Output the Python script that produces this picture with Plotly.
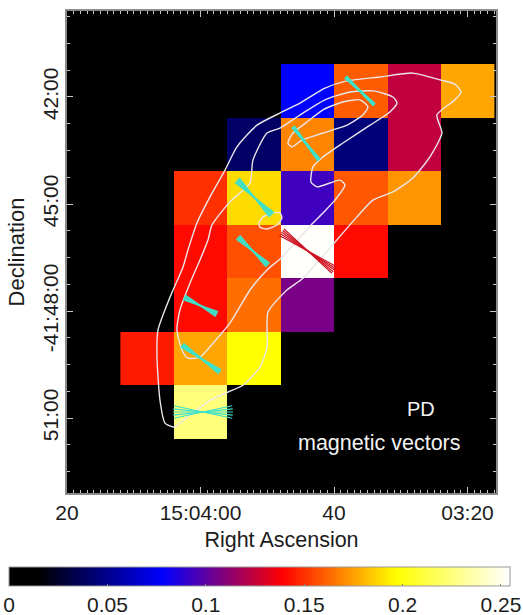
import math
import plotly.graph_objects as go

# Grid of polarised-degree cells: RA is seconds after 15:03:00, Dec is arcmin south of -41:00
ra_centers = [68, 60, 52, 44, 36, 28, 20]
dec_centers = [41.825, 43.325, 44.825, 46.325, 47.825, 49.325, 50.825]
pd_rows = [
    [0, 0, 0, 0.078, 0.160, 0.124, 0.177],
    [0, 0, 0.040, 0.169, 0.045, 0.124, 0],
    [0, 0.150, 0.189, 0.093, 0.159, 0.173, 0],
    [0, 0.141, 0.157, 0.254, 0.141, 0, 0],
    [0, 0.141, 0.164, 0.107, 0, 0, 0],
    [0.145, 0.177, 0.197, 0, 0, 0, 0],
    [0, 0.225, 0, 0, 0, 0, 0],
]

contour_outer_ra = [63.97, 65.32, 66.07, 66.52, 66.37, 64.57, 62.63, 61.88, 60.53, 58.58, 56.33, 54.54, 51.54, 48.10, 45.10, 41.35, 38.06, 33.12, 28.17, 24.13, 21.88, 20.98, 21.88, 24.58, 23.83, 25.63, 28.17, 31.17, 34.17, 36.56, 39.86, 44.65, 47.05, 49.89, 50.04, 51.09, 53.64, 55.89, 58.58, 61.58, 63.97]
contour_outer_dec = [51.25, 51.14, 50.50, 49.29, 48.53, 47.61, 46.77, 46.29, 45.53, 44.80, 44.05, 43.40, 42.79, 42.45, 42.17, 41.75, 41.55, 41.44, 41.33, 41.52, 41.64, 41.86, 42.08, 42.50, 43.01, 43.68, 44.27, 44.66, 44.89, 45.36, 46.07, 47.08, 47.41, 48.03, 49.01, 49.57, 50.08, 50.27, 50.50, 50.92, 51.25]
contour_mid_ra = [60.08, 61.88, 62.78, 63.53, 63.08, 61.58, 60.08, 58.88, 58.28, 55.59, 52.59, 52.14, 50.04, 48.10, 44.65, 41.35, 37.61, 34.17, 31.17, 30.57, 31.62, 34.61, 38.66, 41.65, 43.15, 43.45, 42.55, 39.11, 38.36, 39.86, 41.65, 43.30, 47.80, 50.04, 52.59, 55.59, 58.13, 60.08]
contour_mid_dec = [49.29, 49.32, 49.09, 48.53, 47.97, 47.22, 46.57, 46.01, 45.59, 44.94, 44.41, 43.77, 43.01, 42.87, 42.45, 42.08, 41.86, 41.83, 42.00, 42.17, 42.42, 42.79, 43.29, 43.68, 43.96, 44.38, 44.52, 44.33, 44.47, 44.89, 45.25, 45.56, 46.49, 46.85, 47.41, 48.34, 48.90, 49.29]
contour_inner_ra = [46.90, 46.30, 44.80, 41.65, 38.06, 35.66, 34.91, 36.11, 38.66, 41.65, 44.05, 46.15, 46.90]
contour_inner_dec = [43.29, 43.40, 43.21, 43.01, 42.79, 42.50, 42.28, 42.08, 42.14, 42.36, 42.70, 43.01, 43.29]
contour_blob_ra = [51.24, 50.64, 49.14, 48.10, 47.80, 48.55, 50.04, 51.09, 51.24]
contour_blob_dec = [45.53, 45.36, 45.25, 45.25, 45.39, 45.59, 45.70, 45.65, 45.53]

# Magnetic vectors: centre, direction on the sky plane (deg), half length (arcmin), angle scatter (deg)
vec_ra = [36.11, 44.20, 51.92, 52.14, 43.90, 60.00, 59.93, 59.63]
vec_dec = [41.83, 43.30, 44.82, 46.32, 46.32, 47.85, 49.33, 50.83]
vec_angle = [44, 52, 45, 43, 35.6, 27, 35, 0]
vec_half = [0.56, 0.59, 0.69, 0.575, 0.915, 0.52, 0.65, 0.84]
vec_scatter = [3, 3, 7, 7, 7, 8, 5, 12]
vec_kind = ["cyan", "cyan", "cyan", "cyan", "red", "cyan", "cyan", "cyan"]

x_major = [80, 60, 40, 20]
x_labels = ["20", "15:04:00", "40", "03:20"]
y_major = [42, 45, 48, 51]
y_labels = ["42:00", "45:00", "-41:48:00", "51:00"]
cbar_ticks = [0, 0.05, 0.1, 0.15, 0.2, 0.25]
cbar_labels = ["0", "0.05", "0.1", "0.15", "0.2", "0.25"]

FONT = "Liberation Sans"
TXT = "#1c1c1c"
ZMAX = 0.2546
scale = [
    [0, "#000000"], [0.015 / ZMAX, "#000000"], [0.078 / ZMAX, "#0000ff"],
    [0.139 / ZMAX, "#ff0000"], [0.197 / ZMAX, "#ffff00"], [1, "#ffffff"],
]
VEC_WIDTHS = [2.2, 2.2, 1.6, 1.6, 1.2, 1.5, 1.9, 1.2]

L, T, W, H = 67, 11, 429, 482
fig = go.Figure()
fig.add_trace(go.Heatmap(
    x=ra_centers, y=dec_centers, z=pd_rows, zmin=0, zmax=ZMAX, colorscale=scale,
    hoverinfo="skip", xgap=0, ygap=0,
    colorbar=dict(
        orientation="h", lenmode="pixels", len=501, thicknessmode="pixels", thickness=19,
        x=(9 - L) / W, xanchor="left", y=(T + H - 567) / H, yanchor="top", xpad=0, ypad=0,
        tickmode="array", tickvals=cbar_ticks, ticktext=cbar_labels, ticks="inside", ticklen=2,
        tickcolor="#888888", outlinecolor="#999999", outlinewidth=1,
        tickfont=dict(family=FONT, size=21, color=TXT), ticklabelposition="outside",
    ),
))

for rr, dd in [(contour_outer_ra, contour_outer_dec), (contour_mid_ra, contour_mid_dec),
               (contour_inner_ra, contour_inner_dec), (contour_blob_ra, contour_blob_dec)]:
    fig.add_trace(go.Scatter(x=rr, y=dd, mode="lines", hoverinfo="skip", showlegend=False,
                             line=dict(color="#ebe6ea", width=1.4, shape="spline", smoothing=0.6)))

RATIO = 5.34  # RA seconds per Dec arcmin of equal plotted length
colors = {"cyan": "#3fe0c8", "red": "#cf1020"}
for ra, de, ang, hl, sc, kind, lw in zip(vec_ra, vec_dec, vec_angle, vec_half, vec_scatter, vec_kind, VEC_WIDTHS):
    for m in (-1, -0.5, 0, 0.5, 1):
        t = math.radians(ang + m * sc)
        dr, dd = hl * math.cos(t) * RATIO, hl * math.sin(t)
        fig.add_trace(go.Scatter(x=[ra + dr, ra - dr], y=[de - dd, de + dd], mode="lines",
                                 hoverinfo="skip", showlegend=False,
                                 line=dict(color=colors[kind], width=lw)))

fig.add_annotation(text="PD", xref="paper", yref="paper", x=(421 - L) / W, y=(T + H - 409) / H,
                   xanchor="center", yanchor="middle",
                   showarrow=False, font=dict(family=FONT, size=20, color="#f2f2f2"))
fig.add_annotation(text="magnetic vectors", xref="paper", yref="paper", x=(379 - L) / W, y=(T + H - 443) / H,
                   xanchor="center", yanchor="middle",
                   showarrow=False, font=dict(family=FONT, size=21.5, color="#f2f2f2"))

common = dict(showgrid=False, zeroline=False, showline=True, linecolor="#8c8c8c", linewidth=1.5,
              mirror="ticks", ticks="inside", ticklen=6, tickcolor="#c8c8c8", tickwidth=1,
              tickfont=dict(family=FONT, size=21, color=TXT), tickmode="array")
fig.update_xaxes(range=[80, 15.73], tickvals=x_major, ticktext=x_labels, ticklabelstandoff=0,
                 minor=dict(ticks="inside", ticklen=3, tick0=80, dtick=-4, tickcolor="#c8c8c8"),
                 title=dict(text="Right Ascension", font=dict(family=FONT, size=21.5, color=TXT), standoff=9),
                 **common)
fig.update_yaxes(range=[53.10, 39.59], tickvals=y_major, ticktext=y_labels, tickangle=-90, ticklabelstandoff=-1,
                 minor=dict(ticks="inside", ticklen=3, tick0=42, dtick=0.75, tickcolor="#c8c8c8"),
                 title=dict(text="Declination", font=dict(family=FONT, size=22, color=TXT), standoff=8),
                 **common)
fig.update_layout(width=523, height=615, autosize=False, paper_bgcolor="white", plot_bgcolor="black",
                  margin=dict(l=L, t=T, r=523 - L - W, b=615 - T - H, autoexpand=False), showlegend=False)
fig.write_html("out.html", config=dict(displayModeBar=False),
               post_script="document.body.style.margin='0';")
